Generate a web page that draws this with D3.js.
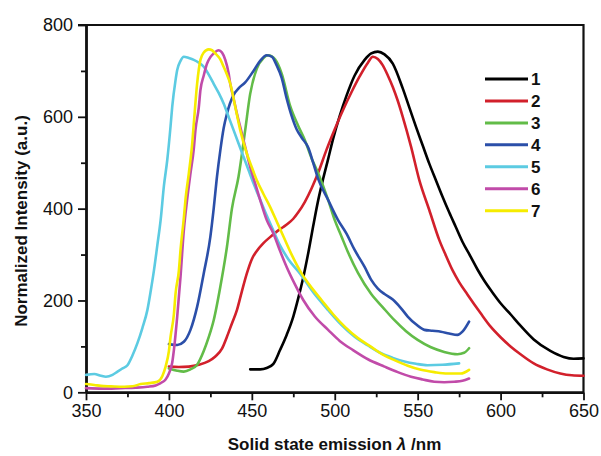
<!DOCTYPE html>
<html>
<head>
<meta charset="utf-8">
<script src="https://cdn.jsdelivr.net/npm/d3@7/dist/d3.min.js"></script>
<style>
  html, body { margin: 0; padding: 0; background: #fff; }
  svg { display: block; font-family: "Liberation Sans", Arial, sans-serif; }
</style>
</head>
<body>
<svg id="chart" width="601" height="456"></svg>
<script>
// Solid state emission spectra, [wavelength (nm), intensity (a.u.)]
const s1 = [[449,50],[455,50],[459,53],[463,62],[467,92],[471,125],[475,165],[478,205],[481,250],[484,303],[487,362],[490,418],[493,465],[496,508],[499,552],[503,602],[507,645],[512,690],[518,724],[522,738],[526,742],[530,736],[535,716],[541,662],[545,620],[549,578],[553,538],[557,498],[561,462],[565,426],[569,392],[573,360],[577,328],[582,295],[586,268],[590,244],[595,218],[600,194],[606,170],[612,145],[620,115],[630,90],[638,77],[644,73],[650,74]];
const s2 = [[400,56],[406,55],[412,56],[418,60],[424,68],[428,78],[432,95],[435,121],[438,150],[441,179],[444,220],[447,259],[450,290],[453,308],[457,325],[461,338],[465,350],[469,360],[472,368],[475,378],[478,392],[482,415],[486,444],[490,478],[495,528],[500,573],[505,615],[510,653],[515,688],[520,718],[523,731],[526,726],[529,712],[532,690],[535,665],[538,635],[541,600],[546,535],[551,462],[557,397],[563,332],[567,298],[571,266],[575,240],[580,213],[588,172],[594,143],[600,120],[606,100],[612,83],[620,63],[628,50],[636,41],[643,37],[650,36]];
const s3 = [[400,52],[405,47],[409,45],[413,50],[417,60],[421,90],[424,120],[427,157],[431,230],[435,317],[438,400],[442,470],[446,571],[449,650],[453,705],[457,728],[460,734],[464,725],[468,694],[473,625],[478,580],[482,549],[486,510],[490,477],[496,419],[500,375],[504,340],[508,305],[514,260],[522,214],[529,185],[536,157],[543,133],[550,114],[558,98],[566,88],[574,83],[578,86],[581,96]];
const s4 = [[400,105],[405,103],[409,110],[413,136],[417,186],[421,259],[425,339],[427,400],[429,470],[431,527],[433,575],[435,607],[439,648],[442,662],[446,675],[451,700],[455,722],[459,734],[462,731],[465,712],[468,685],[471,640],[474,602],[477,573],[480,555],[484,533],[487,500],[490,465],[496,419],[502,375],[507,346],[512,310],[518,273],[522,245],[526,226],[530,214],[535,202],[540,183],[544,165],[549,148],[554,136],[559,134],[564,132],[569,128],[574,125],[577,132],[581,154]];
const s5 = [[350,38],[355,40],[359,36],[362,34],[366,38],[369,45],[372,52],[375,59],[378,80],[381,107],[384,140],[387,179],[389,220],[391,266],[393,320],[395,375],[397,450],[399,506],[401,580],[402,622],[404,680],[405,702],[407,722],[409,731],[412,728],[415,724],[418,718],[421,709],[424,692],[427,672],[430,652],[433,629],[436,600],[439,571],[442,542],[445,513],[448,484],[451,455],[455,420],[459,385],[463,352],[467,320],[472,290],[479,259],[487,218],[496,179],[504,147],[512,121],[520,102],[528,85],[535,75],[542,67],[549,62],[556,59],[565,60],[575,63]];
const s6 = [[350,9],[360,8],[371,9],[380,10],[387,12],[392,15],[395,20],[398,28],[400,41],[402,65],[403,92],[405,165],[407,252],[409,353],[411,420],[413,477],[415,530],[416,571],[418,620],[419,658],[421,690],[423,716],[425,730],[427,738],[430,745],[432,740],[434,724],[436,695],[437,672],[439,640],[441,607],[443,578],[445,549],[447,520],[449,491],[452,455],[455,419],[459,375],[463,346],[467,308],[471,273],[476,235],[481,201],[488,165],[496,136],[503,112],[511,92],[520,72],[530,56],[538,44],[546,34],[553,28],[560,23],[566,22],[572,23],[577,25],[581,30]];
const s7 = [[350,18],[355,16],[359,14],[365,13],[373,12],[378,13],[383,18],[388,20],[393,23],[396,35],[398,56],[400,90],[401,121],[403,170],[404,215],[406,265],[407,310],[409,380],[410,420],[412,477],[414,540],[415,585],[417,672],[419,724],[421,740],[424,747],[426,745],[428,738],[431,725],[433,709],[435,692],[437,672],[440,622],[443,571],[447,520],[450,490],[453,462],[457,432],[461,404],[465,372],[469,340],[474,300],[480,259],[486,228],[492,201],[499,170],[506,143],[514,118],[522,99],[529,82],[536,70],[544,58],[552,49],[560,44],[568,41],[576,41],[581,49]];

const seriesNames = ["1", "2", "3", "4", "5", "6", "7"];
const seriesData = [s1, s2, s3, s4, s5, s6, s7];
const seriesColors = ["#000000", "#d2202b", "#62bc48", "#2b4fa9", "#5ccbe2", "#c14ba9", "#f6ec00"];

const xMajorTicks = [350, 400, 450, 500, 550, 600, 650];
const xMinorTicks = [375, 425, 475, 525, 575, 625];
const yMajorTicks = [0, 200, 400, 600, 800];
const yMinorTicks = [100, 300, 500, 700];

const svg = d3.select("#chart");
const plot = { left: 86, right: 583.5, top: 25, bottom: 392.3 };

const x = d3.scaleLinear().domain([350, 650]).range([plot.left, plot.right]);
const y = d3.scaleLinear().domain([0, 800]).range([plot.bottom, plot.top]);

// frame: top and right edges
svg.append("path")
  .attr("d", `M${plot.left - 8},${plot.top}H${plot.right}V${plot.bottom}`)
  .attr("fill", "none").attr("stroke", "#111").attr("stroke-width", 2.2);

// x axis
const gx = svg.append("g").attr("transform", `translate(0,${plot.bottom})`);
gx.call(d3.axisBottom(x).tickValues(xMajorTicks).tickSize(8).tickSizeOuter(0).tickPadding(4).tickFormat(d3.format("d")));
gx.append("g").call(d3.axisBottom(x).tickValues(xMinorTicks).tickSize(5).tickSizeOuter(0).tickFormat(""));
gx.selectAll(".domain").attr("stroke-width", 2.4).attr("stroke", "#111");
gx.selectAll(".tick line").attr("stroke-width", 1.8).attr("stroke", "#111");
gx.selectAll(".tick text").attr("font-size", 18).attr("fill", "#111").attr("font-family", "Liberation Sans, Arial, sans-serif");

// y axis
const gy = svg.append("g").attr("transform", `translate(${plot.left},0)`);
gy.call(d3.axisLeft(y).tickValues(yMajorTicks).tickSize(8).tickSizeOuter(0).tickPadding(5).tickFormat(d3.format("d")));
gy.append("g").call(d3.axisLeft(y).tickValues(yMinorTicks).tickSize(5).tickSizeOuter(0).tickFormat(""));
gy.selectAll(".domain").attr("stroke-width", 2.4).attr("stroke", "#111");
gy.selectAll(".tick line").attr("stroke-width", 1.8).attr("stroke", "#111");
gy.selectAll(".tick text").attr("font-size", 18).attr("fill", "#111").attr("font-family", "Liberation Sans, Arial, sans-serif");

// spectra
const line = d3.line()
  .x(d => x(d[0]))
  .y(d => y(d[1]))
  .curve(d3.curveMonotoneX);

svg.append("g").selectAll("path")
  .data(seriesData)
  .join("path")
  .attr("d", line)
  .attr("fill", "none")
  .attr("stroke", (d, i) => seriesColors[i])
  .attr("stroke-width", 2.6)
  .attr("stroke-linejoin", "round")
  .attr("stroke-linecap", "round");

// legend
const legend = svg.append("g").attr("transform", "translate(485,79)");
const rows = legend.selectAll("g").data(seriesNames).join("g")
  .attr("transform", (d, i) => `translate(0,${i * 21.95})`);
rows.append("line")
  .attr("x1", 0).attr("x2", 43).attr("y1", 0).attr("y2", 0)
  .attr("stroke", (d, i) => seriesColors[i]).attr("stroke-width", 3);
rows.append("text")
  .attr("x", 46).attr("y", 6)
  .attr("font-size", 17).attr("font-weight", "bold").attr("fill", "#111")
  .text(d => d);

// axis titles
svg.append("text")
  .attr("x", 334.5).attr("y", 450)
  .attr("text-anchor", "middle").attr("font-size", 17).attr("font-weight", "bold").attr("fill", "#111")
  .call(t => {
    t.append("tspan").text("Solid state emission ");
    t.append("tspan").attr("font-style", "italic").text("λ");
    t.append("tspan").text(" /nm");
  });

svg.append("text")
  .attr("transform", "translate(27,221) rotate(-90)")
  .attr("text-anchor", "middle").attr("font-size", 17).attr("font-weight", "bold").attr("fill", "#111")
  .text("Normalized Intensity (a.u.)");
</script>
</body>
</html>
